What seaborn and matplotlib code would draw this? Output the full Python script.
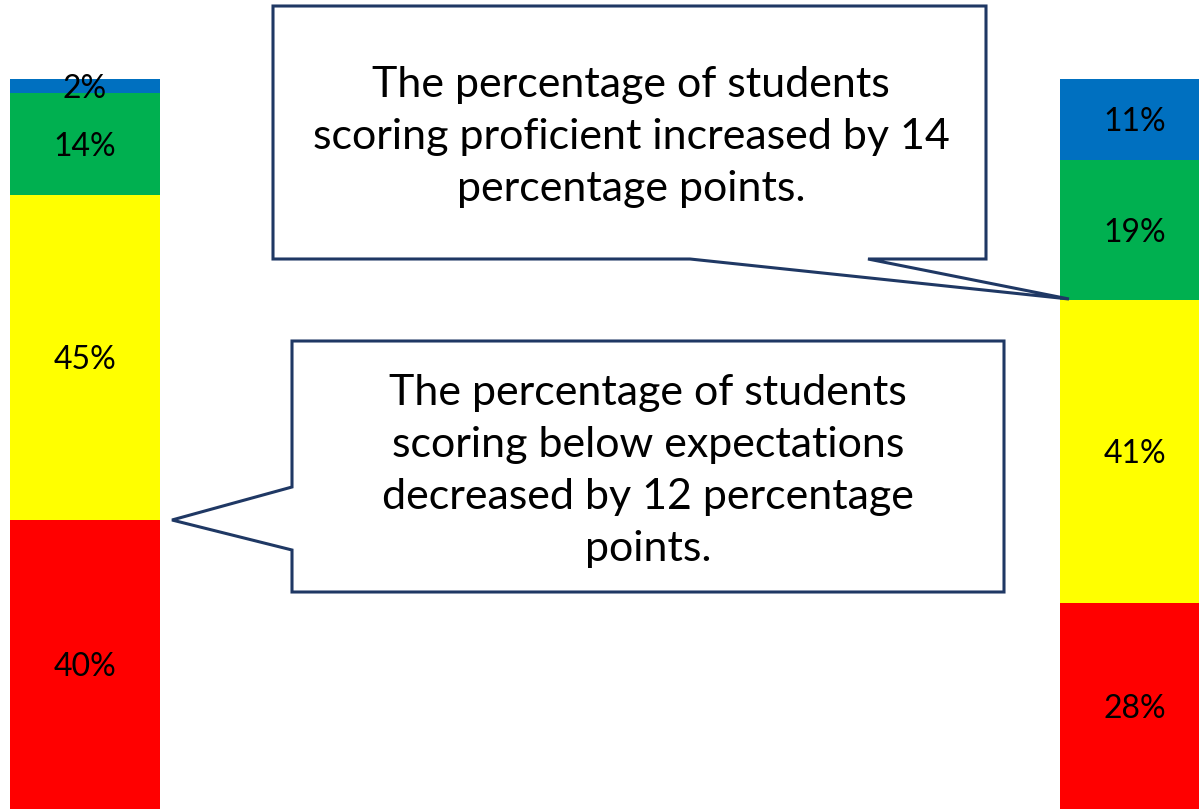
import numpy as np
import pandas as pd
import matplotlib
matplotlib.use("Agg")
import matplotlib.pyplot as plt
import seaborn as sns
from matplotlib.patches import Polygon

# data (bottom to top: below, approaching, proficient, advanced)
groups = ["Before", "After"]
levels = ["Below", "Approaching", "Proficient", "Advanced"]
before = [40, 45, 14, 2]
after = [28, 41, 19, 11]
colors = ["#FF0000", "#FFFF00", "#00B050", "#0070C0"]

note_top = "The percentage of students\nscoring proficient increased by 14\npercentage points."
note_mid = "The percentage of students\nscoring below expectations\ndecreased by 12 percentage\npoints."

sns.set_theme(style="white")
plt.rcParams["font.family"] = ["Lato", "DejaVu Sans"]

df = pd.DataFrame({"group": np.repeat(groups, len(levels)),
                   "level": levels * len(groups),
                   "value": before + after})
# 100% stacked
df["share"] = df["value"] / df.groupby("group")["value"].transform("sum") * 100
df["top"] = df.groupby("group")["share"].cumsum()
df["bottom"] = df["top"] - df["share"]

W, H = 1199, 809
fig = plt.figure(figsize=(W / 100, H / 100), dpi=100)
ax = fig.add_axes([0, 0, 1, 730 / H])

# draw cumulative heights, tallest first, so each layer covers the one below
for lvl, col in reversed(list(zip(levels, colors))):
    sub = df[df["level"] == lvl]
    sns.barplot(data=sub, x="group", y="top", order=groups, color=col,
                width=0.143, saturation=1, ax=ax, linewidth=0)

for _, r in df.iterrows():
    xi = groups.index(r["group"])
    ax.text(xi, (r["bottom"] + r["top"]) / 2 - 0.4, f"{r['value']}%",
            ha="center", va="center", fontsize=23, color="black")

ax.set_xlim(-0.081, 1.061)
ax.set_ylim(0, 100)
ax.axis("off")

# callout boxes in pixel space
ov = fig.add_axes([0, 0, 1, 1], facecolor="none")
ov.set_xlim(0, W)
ov.set_ylim(H, 0)
ov.axis("off")
navy = "#1F3864"

box1 = [(273, 6), (986, 6), (986, 259), (868, 259), (1069, 299), (690, 259), (273, 259)]
box2 = [(292, 341), (1004, 341), (1004, 592), (292, 592), (292, 550), (172, 520), (292, 487)]
for pts in (box1, box2):
    ov.add_patch(Polygon(pts, closed=True, facecolor="white", edgecolor=navy,
                         linewidth=2.2, joinstyle="miter"))

ov.text(631, 137, note_top, ha="center", va="center", fontsize=31,
        linespacing=1.45, color="black")
ov.text(648, 471, note_mid, ha="center", va="center", fontsize=31,
        linespacing=1.45, color="black")

fig.savefig("out.png", dpi=100)
